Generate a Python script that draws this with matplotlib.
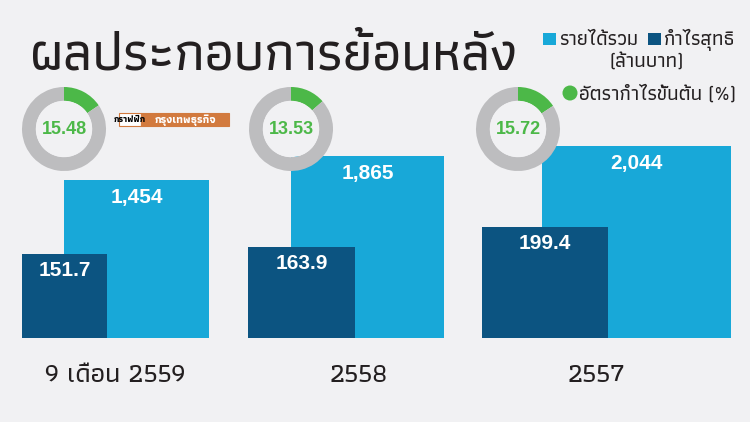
import matplotlib
matplotlib.use("Agg")
import matplotlib.pyplot as plt
from matplotlib.patches import Rectangle, Circle

# data
categories = ["9 เดือน 2559", "2558", "2557"]
revenue = [1454, 1865, 2044]          # รายได้รวม (ล้านบาท)
profit = [151.7, 163.9, 199.4]        # กำไรสุทธิ (ล้านบาท)
gross_margin = [15.48, 13.53, 15.72]  # อัตรากำไรขั้นต้น (%)

title = "ผลประกอบการย้อนหลัง"
legend_rev = "รายได้รวม"
legend_prof = "กำไรสุทธิ"
legend_unit = "(ล้านบาท)"
legend_margin = "อัตรากำไรขั้นต้น (%)"

# layout (pixels on a 750x422 canvas)
W, H = 750, 422
rev_left = [64, 291, 542]
rev_width = [145, 153, 189]
prof_left = [22, 248, 482]
prof_width = [85, 107, 126]
cat_x = [115, 359, 596]
donut_x = [64, 291, 518]
donut_y = 129
donut_r = 42
base_y = 338          # bar baseline
plot_h = 318          # height of bar axes in px

# px per unit for the two value axes
K_REV, REV_BASE = 0.0576, -1297
K_PROF = 0.557

BG = "#f1f1f3"
LIGHT = "#18a8d8"
DARK = "#0c5481"
GREEN = "#4cb848"
GRAY = "#bdbdbf"
ORANGE = "#d27a3e"
TXT = "#231f20"
THAI = ["Athiti", "DejaVu Sans"]
NUM = ["Liberation Sans", "DejaVu Sans"]

fig = plt.figure(figsize=(7.5, 4.22), dpi=100, facecolor=BG)
renderer = fig.canvas.get_renderer()


def fit(t, width):
    w = t.get_window_extent(renderer).width
    t.set_fontsize(t.get_fontsize() * width / w)


# bars
ax_rev = fig.add_axes([0, (H - base_y) / H, 1, plot_h / H])
ax_rev.set_xlim(0, W)
ax_rev.set_ylim(REV_BASE, REV_BASE + plot_h / K_REV)
ax_rev.axis("off")
ax_prof = ax_rev.twinx()
ax_prof.set_ylim(0, plot_h / K_PROF)
ax_prof.axis("off")

ax_rev.bar(rev_left, [v - REV_BASE for v in revenue], width=rev_width,
           bottom=REV_BASE, align="edge", color=LIGHT)
ax_prof.bar(prof_left, profit, width=prof_width, align="edge", color=DARK)

for x, w, v in zip(rev_left, rev_width, revenue):
    ax_rev.annotate(f"{v:,}", xy=(x + w / 2, v), xytext=(0, -18),
                    textcoords="offset pixels", ha="center", va="center",
                    color="white", fontsize=15, fontweight="bold", family=NUM)
for x, w, v in zip(prof_left, prof_width, profit):
    ax_prof.annotate(f"{v:.1f}", xy=(x + w / 2, v), xytext=(0, -17),
                     textcoords="offset pixels", ha="center", va="center",
                     color="white", fontsize=15, fontweight="bold", family=NUM)

# donuts
for cx, m in zip(donut_x, gross_margin):
    dax = fig.add_axes([(cx - donut_r) / W, (H - donut_y - donut_r) / H,
                        2 * donut_r / W, 2 * donut_r / H])
    dax.pie([m, 100 - m], colors=[GREEN, GRAY], startangle=90, counterclock=False,
            radius=1, wedgeprops=dict(width=0.33, edgecolor="none"))
    dax.add_patch(Circle((0, 0), 0.67, facecolor=BG, edgecolor="none"))
    dax.set_xlim(-1, 1)
    dax.set_ylim(-1, 1)
    dax.set_aspect("equal")
    dax.axis("off")
    dax.text(0, -0.02, f"{m:.2f}", ha="center", va="center", color=GREEN,
             fontsize=13, fontweight="bold", family=NUM)

# overlay for title, legend, categories
ov = fig.add_axes([0, 0, 1, 1], zorder=5)
ov.set_xlim(0, W)
ov.set_ylim(H, 0)
ov.axis("off")

t = ov.text(30, 70, title, family=THAI, fontweight="medium", fontsize=40,
            color=TXT, va="baseline", ha="left")
fit(t, 488)

cat_size = None
for i, (x, lab) in enumerate(zip(cat_x, categories)):
    t = ov.text(x, 382, lab, family=THAI, fontweight="medium", fontsize=18,
                color=TXT, ha="center", va="baseline")
    if i == 0:
        fit(t, 141)
        cat_size = t.get_fontsize()
    else:
        t.set_fontsize(cat_size)

# legend
ov.add_patch(Rectangle((543, 33), 13, 12, facecolor=LIGHT, edgecolor="none"))
t = ov.text(559, 45, legend_rev, family=THAI, fontweight="medium", fontsize=12,
            color=TXT, va="baseline")
fit(t, 79)
ov.add_patch(Rectangle((648, 33), 13, 12, facecolor=DARK, edgecolor="none"))
t2 = ov.text(664, 45, legend_prof, family=THAI, fontweight="medium", fontsize=12,
             color=TXT, va="baseline")
t2.set_fontsize(t.get_fontsize())
t3 = ov.text(647, 67, legend_unit, family=THAI, fontweight="medium", fontsize=12,
             color=TXT, va="baseline", ha="center")
t3.set_fontsize(t.get_fontsize())
ov.add_patch(Circle((570, 93), 7.5, facecolor=GREEN, edgecolor="none"))
t4 = ov.text(579, 100, legend_margin, family=THAI, fontweight="medium", fontsize=12,
             color=TXT, va="baseline")
t4.set_fontsize(t.get_fontsize())

# source badge
ov.add_patch(Rectangle((119, 113), 22, 13, facecolor="white", edgecolor=ORANGE, lw=0.8))
ov.add_patch(Rectangle((141, 113), 88, 13, facecolor=ORANGE, edgecolor=ORANGE, lw=0.8))
ov.text(130, 120, "กราฟฟิก", family=THAI, fontweight="bold", fontstyle="italic",
        fontsize=6.5, color="black", ha="center", va="center")
ov.text(185, 120, "กรุงเทพธุรกิจ", family=THAI, fontweight="bold",
        fontsize=8, color="white", ha="center", va="center")

fig.savefig("out.png", dpi=100, facecolor=BG)
